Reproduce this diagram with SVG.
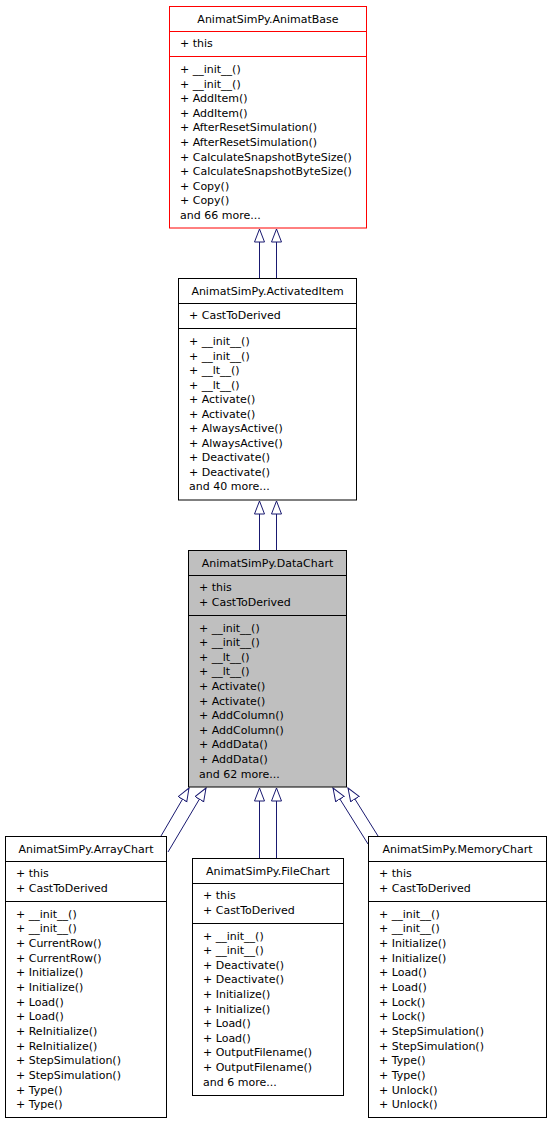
<svg xmlns="http://www.w3.org/2000/svg" width="552" height="1124" viewBox="0 0 552 1124">
<style>
text{font-family:"DejaVu Sans",Verdana,sans-serif;font-size:11px;fill:#000}
.t{text-anchor:middle}
.box{fill:#fff;stroke:#000;stroke-width:1}
.red{stroke:#ff0000}
.cur{fill:#bfbfbf}
.sep{stroke:#000;stroke-width:1}
.sepr{stroke:#ff0000;stroke-width:1}
.edge{fill:none;stroke:#191970;stroke-width:1;marker-end:url(#inh)}
</style>
<defs>
<marker id="inh" markerUnits="userSpaceOnUse" markerWidth="16" markerHeight="12" refX="13.5" refY="5.5" orient="auto" viewBox="0 0 16 12">
<path d="M0.5,0.5 L13.5,5.5 L0.5,10.5 Z" fill="#fff" stroke="#191970" stroke-width="1"/>
</marker>
</defs>
<rect width="552" height="1124" fill="#fff"/>
<g id="edges">
<path class="edge" d="M259.5,278 L259.5,229"/>
<path class="edge" d="M276.5,278 L276.5,229"/>
<path class="edge" d="M259.5,550 L259.5,501"/>
<path class="edge" d="M276.5,550 L276.5,501"/>
<path class="edge" d="M161,836 L189,788"/>
<path class="edge" d="M168,852 L206,788"/>
<path class="edge" d="M259.5,858 L259.5,788"/>
<path class="edge" d="M276.5,858 L276.5,788"/>
<path class="edge" d="M368,844 L333,788"/>
<path class="edge" d="M378,836 L348,788"/>
</g>
<g id="AnimatBase">
<rect class="box red" x="169.5" y="6.5" width="197" height="221.5"/>
<line class="sepr" x1="169.5" y1="31.5" x2="366.5" y2="31.5"/>
<line class="sepr" x1="169.5" y1="56.5" x2="366.5" y2="56.5"/>
<text class="t" x="268" y="22.5">AnimatSimPy.AnimatBase</text>
<text x="180" y="47">+ this</text>
<text x="180"><tspan x="180" y="73">+ __init__()</tspan><tspan x="180" y="87.6">+ __init__()</tspan><tspan x="180" y="102.2">+ AddItem()</tspan><tspan x="180" y="116.8">+ AddItem()</tspan><tspan x="180" y="131.4">+ AfterResetSimulation()</tspan><tspan x="180" y="146">+ AfterResetSimulation()</tspan><tspan x="180" y="160.6">+ CalculateSnapshotByteSize()</tspan><tspan x="180" y="175.2">+ CalculateSnapshotByteSize()</tspan><tspan x="180" y="189.8">+ Copy()</tspan><tspan x="180" y="204.4">+ Copy()</tspan><tspan x="180" y="219">and 66 more...</tspan></text>
</g>
<g id="ActivatedItem">
<rect class="box" x="178.5" y="278.5" width="178" height="221.5"/>
<line class="sep" x1="178.5" y1="303.5" x2="356.5" y2="303.5"/>
<line class="sep" x1="178.5" y1="328.5" x2="356.5" y2="328.5"/>
<text class="t" x="267.5" y="294.5">AnimatSimPy.ActivatedItem</text>
<text x="189" y="319">+ CastToDerived</text>
<text x="189"><tspan x="189" y="345">+ __init__()</tspan><tspan x="189" y="359.5">+ __init__()</tspan><tspan x="189" y="374">+ __lt__()</tspan><tspan x="189" y="388.5">+ __lt__()</tspan><tspan x="189" y="403">+ Activate()</tspan><tspan x="189" y="417.5">+ Activate()</tspan><tspan x="189" y="432">+ AlwaysActive()</tspan><tspan x="189" y="446.5">+ AlwaysActive()</tspan><tspan x="189" y="461">+ Deactivate()</tspan><tspan x="189" y="475.5">+ Deactivate()</tspan><tspan x="189" y="490">and 40 more...</tspan></text>
</g>
<g id="DataChart">
<rect class="box cur" x="188.5" y="550.5" width="158" height="236.5"/>
<line class="sep" x1="188.5" y1="575.5" x2="346.5" y2="575.5"/>
<line class="sep" x1="188.5" y1="615.5" x2="346.5" y2="615.5"/>
<text class="t" x="267.5" y="566.5">AnimatSimPy.DataChart</text>
<text x="199"><tspan x="199" y="591">+ this</tspan><tspan x="199" y="605.5">+ CastToDerived</tspan></text>
<text x="199"><tspan x="199" y="631.5">+ __init__()</tspan><tspan x="199" y="646.1">+ __init__()</tspan><tspan x="199" y="660.7">+ __lt__()</tspan><tspan x="199" y="675.3">+ __lt__()</tspan><tspan x="199" y="689.9">+ Activate()</tspan><tspan x="199" y="704.5">+ Activate()</tspan><tspan x="199" y="719.1">+ AddColumn()</tspan><tspan x="199" y="733.7">+ AddColumn()</tspan><tspan x="199" y="748.3">+ AddData()</tspan><tspan x="199" y="762.9">+ AddData()</tspan><tspan x="199" y="777.5">and 62 more...</tspan></text>
</g>
<g id="ArrayChart">
<rect class="box" x="5.5" y="836.5" width="161" height="281"/>
<line class="sep" x1="5.5" y1="861.5" x2="166.5" y2="861.5"/>
<line class="sep" x1="5.5" y1="901.5" x2="166.5" y2="901.5"/>
<text class="t" x="86" y="852.5">AnimatSimPy.ArrayChart</text>
<text x="16"><tspan x="16" y="877">+ this</tspan><tspan x="16" y="891.6">+ CastToDerived</tspan></text>
<text x="16"><tspan x="16" y="917.5">+ __init__()</tspan><tspan x="16" y="932.2">+ __init__()</tspan><tspan x="16" y="946.8">+ CurrentRow()</tspan><tspan x="16" y="961.5">+ CurrentRow()</tspan><tspan x="16" y="976.2">+ Initialize()</tspan><tspan x="16" y="990.9">+ Initialize()</tspan><tspan x="16" y="1005.5">+ Load()</tspan><tspan x="16" y="1020.2">+ Load()</tspan><tspan x="16" y="1034.9">+ ReInitialize()</tspan><tspan x="16" y="1049.5">+ ReInitialize()</tspan><tspan x="16" y="1064.2">+ StepSimulation()</tspan><tspan x="16" y="1078.9">+ StepSimulation()</tspan><tspan x="16" y="1093.5">+ Type()</tspan><tspan x="16" y="1108.2">+ Type()</tspan></text>
</g>
<g id="FileChart">
<rect class="box" x="192.5" y="858.5" width="151" height="237"/>
<line class="sep" x1="192.5" y1="883.5" x2="343.5" y2="883.5"/>
<line class="sep" x1="192.5" y1="923.5" x2="343.5" y2="923.5"/>
<text class="t" x="268" y="874.5">AnimatSimPy.FileChart</text>
<text x="203"><tspan x="203" y="899">+ this</tspan><tspan x="203" y="913.6">+ CastToDerived</tspan></text>
<text x="203"><tspan x="203" y="939.5">+ __init__()</tspan><tspan x="203" y="954.1">+ __init__()</tspan><tspan x="203" y="968.7">+ Deactivate()</tspan><tspan x="203" y="983.3">+ Deactivate()</tspan><tspan x="203" y="997.9">+ Initialize()</tspan><tspan x="203" y="1012.5">+ Initialize()</tspan><tspan x="203" y="1027.1">+ Load()</tspan><tspan x="203" y="1041.7">+ Load()</tspan><tspan x="203" y="1056.3">+ OutputFilename()</tspan><tspan x="203" y="1070.9">+ OutputFilename()</tspan><tspan x="203" y="1085.5">and 6 more...</tspan></text>
</g>
<g id="MemoryChart">
<rect class="box" x="368.5" y="836.5" width="178" height="281"/>
<line class="sep" x1="368.5" y1="861.5" x2="546.5" y2="861.5"/>
<line class="sep" x1="368.5" y1="901.5" x2="546.5" y2="901.5"/>
<text class="t" x="457.5" y="852.5">AnimatSimPy.MemoryChart</text>
<text x="379"><tspan x="379" y="877">+ this</tspan><tspan x="379" y="891.6">+ CastToDerived</tspan></text>
<text x="379"><tspan x="379" y="917.5">+ __init__()</tspan><tspan x="379" y="932.2">+ __init__()</tspan><tspan x="379" y="946.8">+ Initialize()</tspan><tspan x="379" y="961.5">+ Initialize()</tspan><tspan x="379" y="976.2">+ Load()</tspan><tspan x="379" y="990.9">+ Load()</tspan><tspan x="379" y="1005.5">+ Lock()</tspan><tspan x="379" y="1020.2">+ Lock()</tspan><tspan x="379" y="1034.9">+ StepSimulation()</tspan><tspan x="379" y="1049.5">+ StepSimulation()</tspan><tspan x="379" y="1064.2">+ Type()</tspan><tspan x="379" y="1078.9">+ Type()</tspan><tspan x="379" y="1093.5">+ Unlock()</tspan><tspan x="379" y="1108.2">+ Unlock()</tspan></text>
</g>
</svg>
